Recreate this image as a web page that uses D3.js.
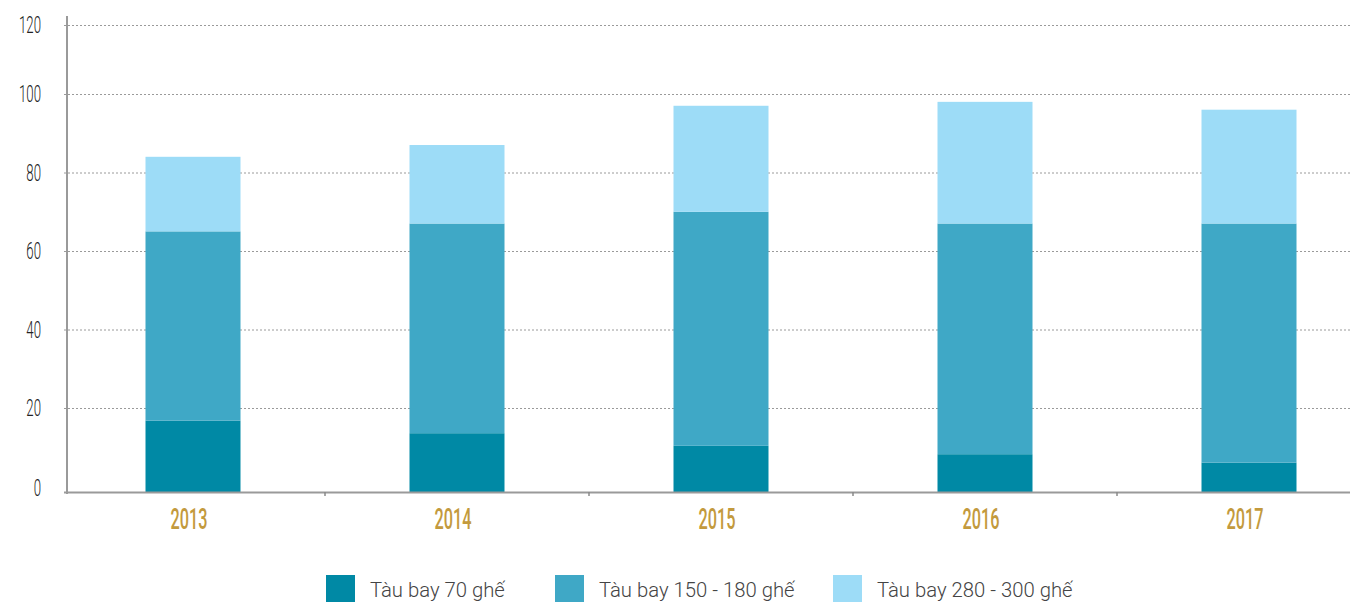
<!DOCTYPE html>
<html>
<head>
<meta charset="utf-8">
<script src="https://cdn.jsdelivr.net/npm/d3@7"></script>
<style>
  body { margin: 0; background: #fff; }
  svg { display: block; }
</style>
</head>
<body>
<div id="chart"></div>
<script>
const years = ['2013', '2014', '2015', '2016', '2017'];
const seats70 = [17, 14, 11, 9, 7];
const seats150 = [48, 53, 59, 58, 60];
const seats280 = [19, 20, 27, 31, 29];
const seriesNames = ['Tàu bay 70 ghế', 'Tàu bay 150 - 180 ghế', 'Tàu bay 280 - 300 ghế'];
const seriesColors = ['#0089a5', '#3fa8c6', '#9ddcf7'];
const yTicks = [0, 20, 40, 60, 80, 100, 120];

const width = 1350, height = 602;

const data = years.map((y, i) => ({ label: y, s0: seats70[i], s1: seats150[i], s2: seats280[i] }));
const keys = ['s0', 's1', 's2'];
const stacked = d3.stack().keys(keys)(data);

const svg = d3.select('#chart').append('svg')
  .attr('width', width)
  .attr('height', height);

const x = d3.scaleBand().domain(years).range([61, 1381]);
// the original gridlines are not evenly spaced, so the scale follows them
const y = d3.scaleLinear().domain([0, 20, 100, 120]).range([492, 408, 94, 25]);
const barW = 95;

// grid
svg.append('g')
  .selectAll('line')
  .data(yTicks.filter(d => d > 0))
  .enter()
  .append('line')
  .attr('x1', 64)
  .attr('x2', width)
  .attr('y1', d => y(d) + 0.5)
  .attr('y2', d => y(d) + 0.5)
  .attr('stroke', '#9a9a9a')
  .attr('stroke-width', 1)
  .attr('stroke-dasharray', '2,2');

// bars
svg.append('g')
  .selectAll('g')
  .data(stacked)
  .enter()
  .append('g')
  .attr('fill', (d, i) => seriesColors[i])
  .selectAll('rect')
  .data(d => d)
  .enter()
  .append('rect')
  .attr('x', d => x(d.data.label) + x.bandwidth() / 2 - barW / 2)
  .attr('y', d => y(d[1]))
  .attr('height', d => y(d[0]) - y(d[1]))
  .attr('width', barW);

// y axis
svg.append('line')
  .attr('x1', 67).attr('x2', 67)
  .attr('y1', 16).attr('y2', 494)
  .attr('stroke', '#9a9a9a')
  .attr('stroke-width', 2);

svg.append('g')
  .selectAll('text')
  .data(yTicks)
  .enter()
  .append('text')
  .attr('transform', d => `translate(41,${d === 0 ? y(d) - 4 : y(d)}) scale(0.55,1)`)
  .attr('dy', '0.35em')
  .attr('text-anchor', 'end')
  .attr('font-family', 'Roboto, sans-serif')
  .attr('font-weight', 300)
  .attr('font-size', 24)
  .attr('fill', '#222')
  .text(d => d);

// x axis
svg.append('line')
  .attr('x1', 64).attr('x2', width)
  .attr('y1', 492.5).attr('y2', 492.5)
  .attr('stroke', '#9a9a9a')
  .attr('stroke-width', 2);

svg.append('g')
  .selectAll('line')
  .data(years.slice(1))
  .enter()
  .append('line')
  .attr('x1', d => x(d))
  .attr('x2', d => x(d))
  .attr('y1', 492)
  .attr('y2', 496)
  .attr('stroke', '#8a8a8a')
  .attr('stroke-width', 1.5);

svg.append('g')
  .selectAll('text')
  .data(years)
  .enter()
  .append('text')
  .attr('transform', d => `translate(${x(d) + x.bandwidth() / 2 - 4},519) scale(0.56,1)`)
  .attr('dy', '0.35em')
  .attr('text-anchor', 'middle')
  .attr('font-family', 'Roboto, sans-serif')
  .attr('font-weight', 500)
  .attr('font-size', 29)
  .attr('fill', '#c39a3d')
  .text(d => d);

// legend
const legendX = [326, 555, 833];
const legend = svg.append('g')
  .selectAll('g')
  .data(seriesNames)
  .enter()
  .append('g')
  .attr('transform', (d, i) => `translate(${legendX[i]},575)`);

legend.append('rect')
  .attr('width', 29)
  .attr('height', 27)
  .attr('fill', (d, i) => seriesColors[i]);

legend.append('text')
  .attr('x', 44)
  .attr('y', 15)
  .attr('dy', '0.35em')
  .attr('font-family', 'Roboto, sans-serif')
  .attr('font-weight', 300)
  .attr('font-size', 20.3)
  .attr('fill', '#444')
  .text(d => d);
</script>
</body>
</html>
